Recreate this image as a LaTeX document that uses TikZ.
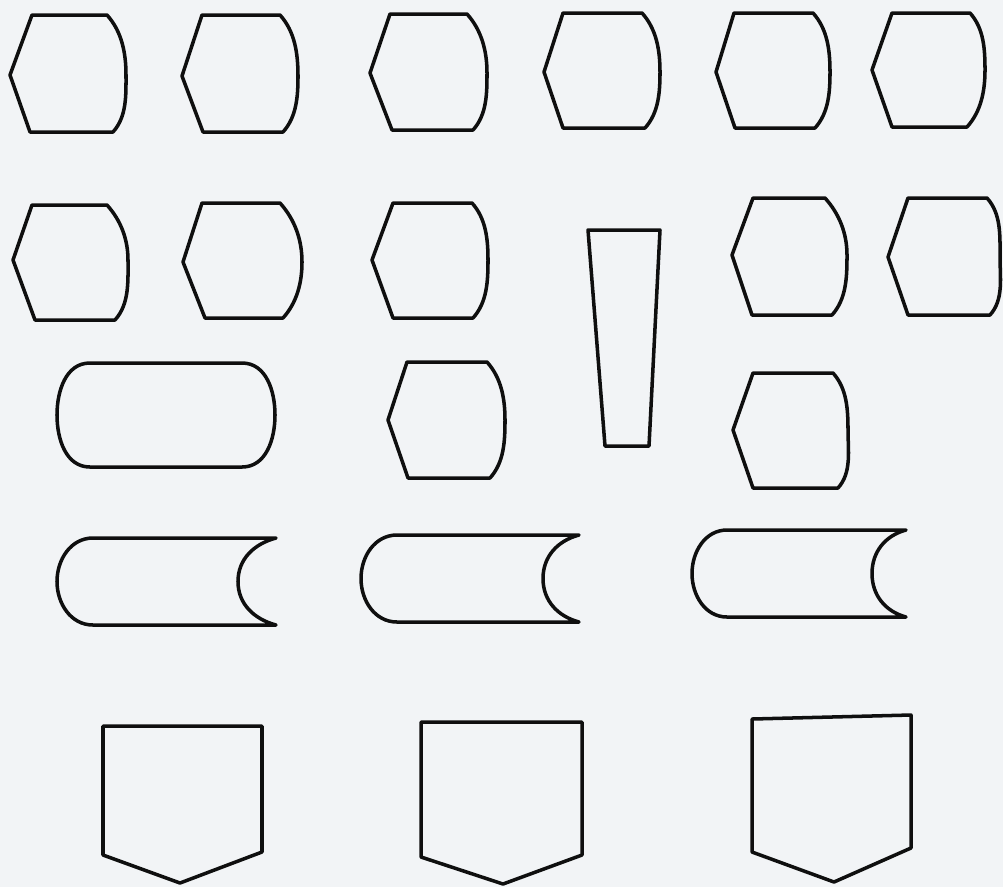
\documentclass[tikz,border=0pt]{standalone}
\usepackage{tikz}
\definecolor{paper}{RGB}{242,244,246}
\definecolor{ink}{RGB}{15,15,15}
\tikzset{
  shp/.style={draw=ink, line width=2pt, line join=round},
}
% display symbol: tip x, top-left x, top-right x, right bulge x, top y, bottom y, bottom-left x, bottom-right x, middle y
\newcommand{\dispshape}[9]{%
  \draw[shp] (#2,#5) -- (#3,#5) to[out=-48,in=90,looseness=0.9] (#4,#9)
    to[out=-90,in=48,looseness=0.9] (#8,#6) -- (#7,#6) -- (#1,#9) -- cycle;}
% stored data: left x, start of straight part, right x, hollow x, top y, bottom y
\newcommand{\storeshape}[6]{%
  \draw[shp] (#2,#5) -- (#3,#5) to[out=195,in=90] (#4,{(#5+#6)/2})
    to[out=-90,in=165] (#3,#6) -- (#2,#6) to[out=180,in=-90] (#1,{(#5+#6)/2})
    to[out=90,in=180] cycle;}

\begin{document}
\begin{tikzpicture}[x=0.02cm, y=-0.02cm]
  \useasboundingbox (0,0) rectangle (1003,887);
  \fill[paper] (0,0) rectangle (1003,887);

  % first row
  \dispshape{10}{32}{107}{126}{15}{132}{30}{113}{75}
  \dispshape{182}{202}{280}{298}{15}{132}{203}{283}{76}
  \dispshape{370}{390}{467}{487}{14}{130}{392}{473}{73}
  \dispshape{544}{563}{642}{660}{13}{128}{563}{645}{72}
  \dispshape{716}{734}{813}{830}{13}{128}{735}{815}{72}
  \dispshape{872}{892}{970}{985}{13}{127}{892}{967}{70}

  % second row
  \dispshape{13}{32}{107}{128}{205}{320}{35}{115}{260}
  \dispshape{183}{202}{280}{302}{203}{318}{205}{283}{262}
  \dispshape{372}{393}{472}{488}{203}{318}{393}{473}{260}
  \draw[shp] (588,230) -- (660,230) -- (649,446) -- (605,446) -- cycle;
  \dispshape{732}{753}{825}{847}{198}{315}{752}{832}{255}
  \dispshape{888}{908}{987}{1000}{198}{315}{908}{990}{257}

  % third row
  \draw[shp] (90,363) -- (242,363) to[out=0,in=90] (275,415)
    to[out=-90,in=0] (242,467) -- (90,467) to[out=180,in=-90] (57,415)
    to[out=90,in=180] cycle;
  \dispshape{388}{407}{487}{505}{362}{478}{408}{490}{420}
  \dispshape{733}{753}{833}{848}{373}{488}{753}{838}{430}

  % stored data
  \storeshape{57}{93}{276}{238}{538}{625}
  \storeshape{361}{397}{579}{543}{535}{622}
  \storeshape{692}{727}{906}{872}{530}{617}

  % off-page connectors
  \draw[shp] (103,726) -- (262,726) -- (262,852) -- (180,883) -- (103,855) -- cycle;
  \draw[shp] (421,722) -- (582,722) -- (582,855) -- (503,884) -- (421,857) -- cycle;
  \draw[shp] (752,719) -- (911,715) -- (911,848) -- (834,882) -- (752,852) -- cycle;
\end{tikzpicture}
\end{document}
